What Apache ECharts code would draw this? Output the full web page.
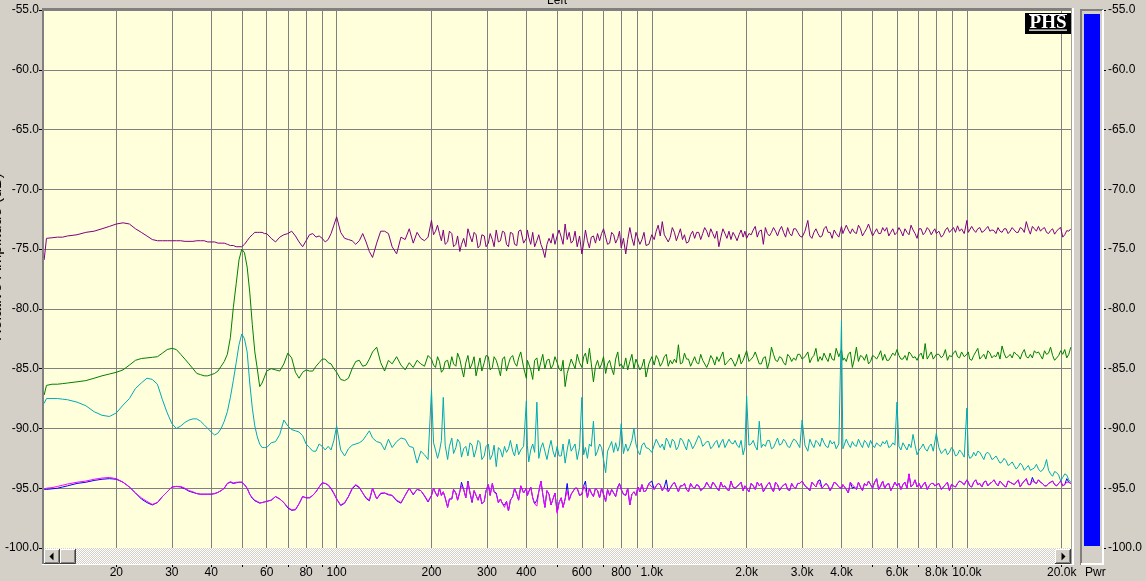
<!DOCTYPE html>
<html><head><meta charset="utf-8">
<script src="https://cdn.jsdelivr.net/npm/echarts@6/dist/echarts.min.js"></script>
<style>html,body{margin:0;padding:0;background:#d4d0c8;overflow:hidden}#c{width:1146px;height:581px}</style>
</head><body><div id="c"></div>
<script>
// ---------- DATA ----------
// main frequency grid (Hz)
const freqs = [
  11.8, 12, 12.5, 13, 13.5, 14, 15, 16, 17, 18, 19,
  20, 21, 22, 23, 24, 25, 26, 27, 28, 29,
  30, 31, 32, 33, 34, 35, 36, 37, 38, 39,
  40, 41, 42, 43, 44, 45, 46, 47, 48, 49,
  50, 51, 52, 53, 54, 55, 56, 57, 58, 59,
  60, 62, 64, 66, 68, 70, 72, 74, 76, 78,
  80, 82, 84, 86, 88, 90, 92, 94, 96, 98,
  100, 103, 106, 109, 112, 115, 118, 121, 124, 127,
  130, 134, 138, 142, 146, 150, 155, 160, 165, 170,
  175, 180, 185, 190, 195,
  200, 206, 212, 218, 225, 232, 239, 246, 253, 261,
  269, 277, 285, 294, 303, 312, 321, 331, 341, 351,
  362, 373, 384, 400, 407, 419, 432, 445, 458, 472,
  486, 501, 516, 531, 547, 563, 580, 600, 616, 634,
  653, 673, 693, 714, 735, 757, 780, 800, 827, 852,
  878, 904, 931, 959, 1000, 1018, 1048, 1080, 1112, 1145,
  1180, 1215, 1252, 1289, 1328, 1368, 1409, 1451, 1494, 1539,
  1585, 1633, 1682, 1732, 1784, 1838, 1893, 1950, 2000, 2068,
  2130, 2194, 2260, 2328, 2398, 2470, 2544, 2620, 2699, 2780,
  2863, 2949, 3000, 3128, 3222, 3319, 3419, 3521, 3627, 3736,
  3848, 4000, 4082, 4205, 4331, 4461, 4595, 4732, 4874, 5021,
  5171, 5326, 5486, 5651, 5820, 6000, 6175, 6360, 6551, 6747,
  6950, 7158, 7373, 7594, 7822, 8000, 8298, 8547, 8804, 9068,
  9340, 9620, 10000, 10206, 10512, 10828, 11153, 11487, 11832, 12187,
  12552, 12929, 13317, 13716, 14128, 14552, 14988, 15438, 15901, 16378,
  16869, 17375, 17897, 18433, 18986, 19556, 20143, 20747, 21369
];
// extra in-between frequencies for the dense noisy part (Hz)
const freqsFine = [
  203, 209, 215, 221, 228, 235, 242, 249, 257, 265,
  273, 281, 289, 298, 307, 316, 326, 336, 346, 356,
  367, 378, 392, 403, 413, 425, 438, 451, 465, 479,
  493, 508, 523, 539, 555, 571, 590, 608, 625, 643,
  663, 683, 703, 724, 746, 768, 790, 813, 839, 865,
  891, 917, 945, 979, 1033, 1064, 1096, 1128, 1162, 1197,
  1233, 1270, 1308, 1348, 1388, 1430, 1472, 1516, 1562, 1609,
  1657, 1707, 1758, 1811, 1865, 1921, 1975, 2034, 2099, 2162,
  2227, 2294, 2363, 2434, 2507, 2582, 2659, 2739, 2821, 2906,
  3063, 3175, 3270, 3369, 3470, 3574, 3681, 3792, 3923, 4041,
  4143, 4268, 4395, 4528, 4663, 4803, 4947, 5096, 5248, 5406,
  5568, 5735, 5909, 6087, 6267, 6455, 6649, 6848, 7053, 7265,
  7483, 7707, 7910, 8148, 8422, 8675, 8935, 9203, 9479, 9808,
  10103, 10358, 10669, 10989, 11319, 11658, 12008, 12368, 12739, 13122,
  13515, 13921, 14338, 14769, 15211, 15668, 16138, 16622, 17121, 17634,
  18163, 18708, 19269, 19848, 20443, 21056
];

const purpleTrace = [
  -75.9, -74.1, -74.05, -74.0, -74.0, -73.9, -73.8, -73.6, -73.5, -73.3, -73.1,
  -72.9, -72.8, -72.9, -73.3, -73.6, -73.9, -74.2, -74.3, -74.3, -74.3,
  -74.3, -74.3, -74.3, -74.35, -74.35, -74.35, -74.3, -74.3, -74.3, -74.4,
  -74.4, -74.4, -74.5, -74.5, -74.5, -74.6, -74.7, -74.7, -74.8, -74.8,
  -74.8, -74.6, -74.3, -74.0, -73.8, -73.6, -73.6, -73.6, -73.6, -73.7,
  -73.7, -74.1, -74.4, -74.0, -73.8, -73.7, -73.5, -73.9, -74.4, -74.8,
  -74.3, -73.8, -73.7, -74.0, -73.9, -74.1, -74.4, -74.2, -73.7, -73.0,
  -72.3, -73.6, -74.1, -74.2, -74.3, -74.6, -74.3, -73.7, -74.4, -75.2,
  -75.7, -74.5, -73.5, -73.5, -73.7, -74.8, -75.4, -74.0, -74.2, -73.3,
  -74.5, -73.6, -74.1, -74.3, -74.0,
  -72.6, -73.5, -73.7, -73.4, -74.4, -73.7, -74.6, -75.2, -74.1, -73.3,
  -74.4, -73.8, -74.7, -73.9, -74.5, -74.2, -73.4, -74.3, -73.6, -74.8,
  -73.7, -74.7, -73.4, -74.1, -74.0, -73.6, -74.3, -74.6, -75.7, -74.1,
  -73.7, -73.9, -74.0, -72.9, -73.6, -74.3, -74.8, -75.4, -73.4, -74.9,
  -73.9, -73.7, -73.7, -74.0, -74.5, -73.8, -74.1, -74.9, -75.4, -73.2,
  -74.7, -73.7, -74.2, -74.7, -73.8, -74.2, -73.0, -72.7, -73.7, -74.0,
  -73.6, -73.8, -74.2, -74.5, -73.8, -74.1, -73.6, -73.7, -73.5, -73.3,
  -74.1, -74.8, -73.3, -74.1, -74.2, -73.9, -73.8, -74.0, -74.1, -73.8,
  -73.1, -73.5, -74.6, -73.7, -73.6, -73.5, -73.4, -73.6, -73.2, -73.9,
  -73.3, -73.9, -74.0, -72.6, -74.1, -73.3, -74.0, -73.3, -73.6, -74.1,
  -73.7, -73.1, -73.4, -73.4, -73.3, -73.7, -73.3, -73.6, -72.9, -73.9,
  -73.3, -73.7, -73.5, -73.9, -73.3, -73.6, -73.5, -73.3, -73.8, -73.4,
  -74.1, -73.3, -73.6, -73.4, -73.5, -73.7, -74.0, -73.4, -73.6, -73.2,
  -73.05, -73.3, -72.6, -73.4, -73.4, -73.3, -73.6, -73.3, -73.5, -73.45,
  -73.2, -73.6, -73.3, -73.5, -73.4, -73.6, -73.3, -72.7, -73.75, -73.3,
  -73.1, -73.3, -73.6, -73.45, -73.75, -73.3, -74.0, -73.45, -73.3
];
const purpleFine = [
  -73.8, -73.0, -74.3, -74.6, -73.5, -74.8, -73.9, -74.6, -74.8, -73.9,
  -73.6, -74.9, -73.8, -74.8, -73.7, -74.8, -74.4, -73.5, -74.6, -73.6,
  -74.6, -73.5, -74.5, -73.4, -74.6, -74.8, -73.8, -75.0, -74.6, -74.5,
  -74.6, -73.4, -74.6, -74.2, -74.5, -73.5, -73.9, -74.5, -74.3, -74.0,
  -74.5, -74.3, -73.3, -74.6, -73.6, -74.5, -73.5, -74.1, -74.2, -74.1,
  -73.6, -74.6, -73.6, -74.6, -73.5, -73.9, -73.8, -74.4, -73.2, -74.3,
  -73.3, -73.8, -74.4, -73.5, -73.6, -74.2, -73.2, -74.0, -73.7, -73.5,
  -74.0, -73.7, -73.5, -73.6, -74.3, -73.4, -73.5, -73.7, -73.4, -74.0,
  -73.4, -73.2, -73.9, -73.2, -73.9, -73.1, -74.0, -73.7, -73.3, -73.6,
  -73.5, -73.9, -73.6, -73.7, -73.9, -73.1, -73.6, -73.4, -74.0, -73.7,
  -73.0, -73.7, -73.6, -73.0, -73.9, -73.3, -73.4, -73.6, -73.7, -73.2,
  -73.2, -73.6, -73.8, -73.2, -73.9, -73.6, -73.0, -73.7, -73.3, -73.8,
  -73.2, -73.8, -73.3, -73.5, -73.8, -73.2, -73.4, -73.6, -73.5, -73.7,
  -73.6, -73.1, -73.6, -73.2, -73.5, -73.1, -73.4, -73.7, -73.5, -73.3,
  -73.7, -73.2, -73.6, -73.2, -73.6, -73.3, -73.1, -73.5, -73.5, -73.2,
  -73.7, -73.3, -73.5, -73.2, -73.8, -73.5
];

const greenTrace = [
  -87.2, -86.4, -86.3, -86.3, -86.25, -86.2, -86.1, -86.0, -85.8, -85.6, -85.45,
  -85.3, -85.1, -84.7, -84.3, -84.15, -84.1, -84.05, -84.0, -83.7, -83.4,
  -83.3, -83.4, -83.8, -84.2, -84.6, -85.0, -85.4, -85.5, -85.6, -85.6,
  -85.5, -85.4, -85.2, -84.8, -84.4, -83.8, -82.4, -79.9, -77.9, -75.9,
  -75.0, -75.3, -76.5, -78.6, -81.3, -83.6, -85.0, -86.5, -86.2, -85.7,
  -85.2, -85.0, -85.1, -85.2, -84.6, -83.7, -84.1, -85.3, -85.8, -85.3,
  -85.1, -85.2, -85.2, -84.8, -84.5, -84.2, -84.2, -84.5, -84.6, -85.0,
  -85.3, -85.9, -86.0, -85.8, -85.0, -84.4, -84.3, -84.8, -84.7, -84.2,
  -83.6, -83.2, -84.5, -85.2, -84.3, -84.6, -84.0, -84.7, -85.1, -84.5,
  -84.9, -84.3, -84.6, -84.8, -83.9,
  -84.2, -84.9, -84.4, -85.1, -84.3, -84.0, -84.8, -84.2, -85.7, -83.9,
  -84.6, -85.6, -84.1, -84.5, -84.0, -84.9, -84.3, -85.6, -84.0, -84.6,
  -83.9, -84.8, -83.6, -85.8, -84.6, -85.9, -84.1, -84.4, -85.0, -84.2,
  -84.7, -84.5, -85.2, -86.5, -84.8, -84.2, -83.8, -84.9, -83.7, -83.3,
  -86.1, -84.3, -84.6, -85.4, -84.3, -85.5, -83.6, -84.6, -84.1, -84.4,
  -85.0, -84.2, -84.8, -85.7, -84.0, -84.7, -84.2, -84.5, -83.8, -84.3,
  -84.2, -83.0, -84.5, -84.2, -84.8, -84.0, -84.6, -84.3, -84.9, -83.9,
  -84.7, -84.4, -83.6, -84.5, -84.1, -84.8, -83.8, -84.3, -83.5, -84.2,
  -83.6, -84.6, -84.1, -85.0, -83.2, -84.3, -84.0, -84.5, -83.8, -84.4,
  -84.3, -83.8, -84.2, -83.6, -84.1, -83.3, -84.0, -83.7, -84.4, -84.2,
  -83.3, -83.4, -84.1, -83.8, -84.9, -83.2, -83.9, -84.3, -84.6, -83.9,
  -84.2, -83.5, -83.8, -84.3, -83.7, -83.4, -84.2, -83.9, -83.6, -84.1,
  -84.3, -83.7, -82.9, -83.9, -84.2, -83.8, -84.1, -83.4, -83.9, -83.7,
  -84.0, -83.6, -83.8, -84.2, -83.9, -83.3, -84.0, -84.2, -83.7, -83.9,
  -83.6, -83.1, -84.1, -83.8, -83.6, -83.9, -83.7, -84.0, -83.8, -83.5,
  -83.6, -84.2, -83.8, -83.2, -84.3, -83.9, -83.8, -84.1, -83.2
];
const greenFine = [
  -84.7, -84.0, -85.3, -84.4, -85.0, -84.6, -83.7, -84.9, -84.5, -85.0,
  -84.0, -84.8, -85.2, -83.9, -85.1, -84.0, -84.9, -84.2, -85.2, -84.1,
  -84.5, -84.1, -84.9, -84.3, -85.1, -84.3, -85.2, -83.8, -84.3, -85.0,
  -84.0, -85.0, -84.3, -85.4, -84.2, -85.0, -84.5, -84.0, -84.6, -84.6,
  -84.8, -85.0, -84.0, -84.6, -85.0, -84.2, -84.8, -85.0, -85.1, -83.8,
  -84.2, -85.1, -84.2, -84.6, -83.9, -84.8, -84.0, -84.8, -84.6, -84.5,
  -84.6, -83.7, -84.2, -84.4, -84.5, -83.8, -84.3, -84.5, -84.2, -84.0,
  -84.0, -84.7, -84.3, -84.4, -84.4, -84.6, -84.2, -84.4, -84.0, -84.1,
  -84.6, -84.0, -84.4, -83.8, -84.4, -84.1, -84.7, -84.0, -84.1, -83.8,
  -84.0, -84.5, -83.9, -84.4, -84.3, -84.1, -83.7, -84.3, -84.0, -84.3,
  -84.4, -83.6, -84.2, -84.4, -84.0, -83.8, -84.4, -84.0, -83.9, -84.3,
  -84.3, -84.0, -83.9, -83.9, -84.2, -84.3, -83.8, -84.0, -83.9, -84.2,
  -84.2, -83.6, -84.3, -83.8, -83.9, -84.3, -84.0, -83.5, -84.1, -84.0,
  -83.6, -84.3, -83.6, -84.2, -83.8, -83.5, -84.1, -84.0, -84.2, -83.7,
  -84.0, -84.1, -83.8, -84.2, -83.4, -84.1, -84.1, -83.7, -83.9, -83.5,
  -83.7, -83.9, -84.1, -83.5, -83.4, -83.8
];

const cyanTrace = [
  -87.9, -87.5, -87.5, -87.5, -87.55, -87.6, -87.8, -88.1, -88.6, -88.9, -89.0,
  -88.7, -88.05, -87.5, -86.65, -86.2, -85.8, -85.9, -86.3, -87.6, -88.7,
  -89.6, -90.0, -89.8, -89.5, -89.3, -89.2, -89.2, -89.4, -89.7, -90.0,
  -90.3, -90.55, -90.4, -90.0, -89.4, -88.6, -87.4, -86.0, -84.5, -83.0,
  -82.1, -82.5, -83.6, -86.2, -88.3, -89.8, -90.7, -91.3, -91.6, -91.6,
  -91.6, -91.2, -91.1, -90.5, -89.3, -89.8, -90.1, -90.2, -90.3, -90.6,
  -91.3, -91.6, -91.9, -91.9, -91.3, -91.5, -91.8, -91.5, -91.8, -91.0,
  -89.8, -91.8, -92.3, -91.7, -91.4, -91.3, -91.2, -91.0, -90.6, -90.2,
  -90.8, -91.1, -91.2, -91.8, -90.9, -91.6, -91.1, -90.8, -90.9, -91.5,
  -91.6, -92.9, -91.9, -92.2, -92.6,
  -86.8, -91.8, -91.9, -87.4, -92.6, -90.8, -91.6, -91.2, -91.7, -92.3,
  -91.4, -91.8, -91.2, -92.3, -91.3, -92.2, -93.2, -91.8, -91.5, -91.7,
  -91.9, -91.3, -91.8, -87.7, -92.8, -91.3, -87.8, -91.6, -91.9, -91.7,
  -91.9, -91.5, -92.3, -92.9, -90.9, -91.8, -92.6, -87.4, -91.6, -91.3,
  -89.4, -91.9, -91.6, -93.7, -91.5, -92.0, -91.9, -89.6, -91.3, -91.5,
  -90.0, -91.9, -91.4, -91.6, -92.0, -91.4, -91.0, -91.3, -90.8, -91.6,
  -91.1, -91.5, -91.0, -91.8, -91.2, -91.4, -90.6, -91.5, -91.1, -91.7,
  -91.2, -91.6, -90.9, -91.5, -91.2, -91.0, -91.6, -92.2, -87.3, -91.3,
  -91.5, -89.4, -91.3, -91.0, -91.7, -91.2, -91.4, -90.9, -91.5, -91.2,
  -91.0, -91.6, -89.3, -91.9, -91.3, -91.0, -91.5, -91.2, -91.6, -91.3,
  -91.7, -81.0, -91.6, -91.3, -91.1, -91.5, -91.3, -91.0, -91.6, -91.4,
  -91.2, -91.5, -91.3, -91.6, -91.2, -87.8, -91.8, -91.5, -91.3, -90.5,
  -92.2, -91.6, -91.7, -91.5, -91.9, -90.4, -92.1, -91.7, -92.0, -91.8,
  -92.2, -92.0, -88.3, -92.5, -92.0, -91.9, -92.3, -92.1, -92.2, -92.5,
  -92.6, -92.8, -92.7, -93.0, -93.1, -93.2, -93.1, -93.3, -93.5, -93.3,
  -93.4, -93.5, -92.6, -93.8, -93.6, -93.9, -94.1, -93.9, -94.5
];
const cyanFine = [
  -91.2, -92.5, -91.0, -91.4, -91.5, -92.1, -90.9, -92.4, -91.5, -91.2,
  -92.4, -91.0, -92.6, -91.5, -92.6, -91.4, -91.6, -92.4, -92.0, -91.0,
  -92.3, -92.2, -91.5, -91.4, -91.8, -92.0, -92.5, -91.2, -92.6, -91.0,
  -92.4, -92.3, -91.3, -91.8, -91.9, -91.3, -91.6, -92.2, -92.5, -91.5,
  -92.3, -91.3, -92.6, -91.9, -91.1, -91.2, -91.4, -92.1, -91.9, -91.0,
  -91.3, -92.2, -91.2, -91.7, -90.9, -91.6, -91.8, -91.1, -90.9, -91.8,
  -90.8, -91.4, -90.9, -91.7, -91.4, -90.9, -91.6, -91.1, -91.5, -91.0,
  -91.2, -91.6, -90.9, -91.3, -91.4, -91.0, -91.6, -91.4, -91.0, -91.8,
  -91.6, -91.5, -91.0, -91.6, -90.8, -91.3, -91.1, -91.6, -90.9, -91.3,
  -91.4, -90.9, -91.6, -91.2, -90.8, -91.5, -91.0, -91.1, -91.3, -91.7,
  -90.9, -91.6, -91.4, -90.9, -91.6, -91.2, -91.0, -91.6, -91.4, -91.1,
  -91.0, -91.5, -91.4, -91.5, -91.2, -91.8, -91.6, -91.4, -91.8, -91.3,
  -91.9, -91.3, -91.8, -91.6, -91.9, -92.2, -91.6, -92.3, -91.8, -92.4,
  -92.1, -92.4, -92.3, -92.0, -92.6, -92.0, -92.6, -92.3, -92.9, -92.5,
  -93.1, -92.8, -93.4, -92.9, -93.5, -93.1, -93.4, -93.0, -93.6, -93.2,
  -93.5, -94.0, -93.7, -94.4, -93.8, -94.3
];

const blueTrace = [
  -95.1, -95.1, -95.05, -95.0, -94.9, -94.8, -94.6, -94.5, -94.35, -94.25, -94.2,
  -94.25, -94.5, -94.9, -95.4, -95.9, -96.2, -96.4, -96.2, -95.7, -95.3,
  -94.9, -94.85, -94.9, -95.05, -95.25, -95.35, -95.45, -95.5, -95.5, -95.5,
  -95.5, -95.45, -95.35, -95.2, -95.0, -94.6, -94.5, -94.6, -94.55, -94.5,
  -94.5, -94.7, -95.0, -95.5, -95.85, -96.05, -96.15, -96.25, -96.2, -96.15,
  -96.1, -96.0, -95.7, -95.9, -96.2, -96.65, -96.85, -96.8, -96.3, -95.7,
  -95.8, -95.8, -95.6, -95.3, -94.9, -94.55, -94.6, -94.75, -95.05, -95.45,
  -95.9, -96.45, -96.25, -95.7, -95.05, -94.75, -94.95, -95.4, -95.85, -96.05,
  -95.0, -95.9, -95.45, -95.4, -95.55, -95.6, -96.05, -96.25, -95.6, -95.0,
  -95.55, -95.1, -95.2, -95.65, -96.15,
  -95.6, -95.4, -95.0, -95.3, -96.6, -95.9, -95.4, -95.3, -95.1, -94.4,
  -96.2, -95.6, -95.5, -96.1, -94.7, -94.6, -95.4, -95.9, -96.4, -96.9,
  -95.7, -95.5, -94.8, -95.0, -95.3, -95.8, -96.0, -94.4, -96.6, -95.5,
  -96.3, -97.0, -95.8, -95.9, -96.0, -95.5, -95.0, -95.5, -94.4, -95.0,
  -95.7, -95.2, -95.0, -96.1, -95.6, -95.4, -94.9, -95.1, -95.6, -96.4,
  -95.3, -94.9, -94.7, -95.2, -94.4, -95.1, -94.6, -95.2, -94.3, -95.0,
  -94.5, -95.3, -94.8, -95.1, -94.6, -95.0, -94.8, -95.3, -94.5, -95.0,
  -94.7, -95.2, -94.9, -95.1, -94.4, -95.0, -94.7, -95.2, -95.0, -94.6,
  -95.1, -94.8, -95.3, -94.7, -95.0, -94.5, -95.2, -94.9, -95.1, -94.6,
  -95.0, -94.6, -94.4, -95.0, -94.5, -94.9, -94.3, -95.1, -94.8, -94.9,
  -94.6, -95.0, -94.8, -95.4, -95.0, -95.1, -94.9, -94.6, -94.4, -95.0,
  -94.2, -94.8, -95.0, -94.6, -94.9, -94.8, -95.1, -94.5, -93.8, -94.7,
  -94.9, -95.0, -94.5, -94.8, -94.6, -94.9, -95.1, -94.7, -95.2, -94.8,
  -94.6, -94.5, -94.3, -94.8, -94.5, -94.7, -94.9, -94.4, -94.6, -94.3,
  -94.8, -94.6, -94.9, -94.5, -94.7, -94.3, -94.6, -94.2, -94.7, -94.5,
  -94.3, -94.6, -94.8, -94.5, -94.7, -94.6, -94.8, -94.2, -94.6
];
const blueFine = [
  -95.0, -95.7, -95.6, -95.8, -95.9, -95.1, -96.0, -94.5, -95.8, -95.4,
  -95.2, -96.0, -96.3, -95.2, -95.6, -95.3, -96.2, -96.3, -96.1, -96.0,
  -95.0, -96.0, -95.4, -95.6, -94.9, -96.3, -95.3, -95.5, -95.2, -96.4,
  -95.4, -96.2, -96.6, -94.6, -95.5, -95.0, -95.6, -94.8, -95.8, -95.4,
  -95.0, -95.8, -95.5, -95.1, -95.1, -95.7, -94.6, -95.5, -95.0, -95.5,
  -95.6, -95.3, -95.3, -94.6, -94.8, -94.7, -94.9, -95.3, -94.7, -94.9,
  -94.8, -94.6, -95.3, -94.9, -94.7, -95.2, -94.9, -94.8, -94.5, -95.0,
  -94.5, -94.8, -95.2, -94.9, -95.1, -94.5, -94.8, -95.3, -94.8, -94.5,
  -94.6, -95.0, -94.5, -95.3, -94.7, -94.9, -94.6, -95.2, -94.9, -94.6,
  -94.8, -95.2, -94.7, -94.4, -95.0, -94.6, -95.2, -94.5, -94.9, -94.7,
  -95.1, -94.5, -94.9, -94.5, -95.2, -94.8, -94.7, -94.5, -95.1, -94.4,
  -94.7, -95.2, -94.5, -94.6, -94.7, -95.0, -94.9, -94.3, -94.6, -94.7,
  -95.1, -94.6, -94.8, -94.6, -94.9, -94.5, -94.7, -94.9, -94.4, -94.7,
  -94.5, -94.9, -94.3, -94.6, -94.5, -94.8, -94.5, -94.6, -94.4, -94.8,
  -94.4, -94.6, -94.5, -94.9, -94.4, -94.7, -94.1, -94.6, -94.5, -94.8,
  -94.6, -94.4, -94.8, -94.4, -94.7, -94.5
];

const magentaTrace = [
  -95.1, -95.0, -94.95, -94.85, -94.75, -94.65, -94.5, -94.4, -94.25, -94.15, -94.1,
  -94.2, -94.5, -94.9, -95.4, -95.8, -96.1, -96.35, -96.2, -95.7, -95.3,
  -94.9, -94.85, -94.85, -95.0, -95.2, -95.3, -95.45, -95.5, -95.5, -95.5,
  -95.5, -95.45, -95.35, -95.2, -95.0, -94.6, -94.45, -94.55, -94.5, -94.5,
  -94.5, -94.7, -95.0, -95.5, -95.8, -96.0, -96.1, -96.2, -96.2, -96.15,
  -96.1, -96.0, -95.7, -95.9, -96.2, -96.6, -96.8, -96.8, -96.3, -95.7,
  -95.8, -95.8, -95.6, -95.3, -94.9, -94.55, -94.6, -94.7, -95.0, -95.4,
  -95.9, -96.4, -96.2, -95.7, -95.0, -94.7, -94.9, -95.4, -95.8, -96.0,
  -95.0, -95.9, -95.4, -95.4, -95.5, -95.6, -96.0, -96.2, -95.6, -95.0,
  -95.5, -95.1, -95.2, -95.6, -96.1,
  -95.6, -95.4, -95.0, -95.3, -96.6, -95.9, -95.4, -95.3, -95.1, -94.5,
  -96.1, -95.6, -95.5, -96.1, -94.7, -94.6, -95.5, -95.9, -96.6, -96.9,
  -95.7, -95.5, -94.8, -95.0, -95.3, -95.8, -96.5, -94.4, -96.6, -95.5,
  -96.3, -97.1, -95.8, -95.9, -96.0, -95.5, -95.0, -95.5, -95.1, -95.0,
  -95.7, -95.2, -95.0, -96.1, -95.6, -95.4, -95.0, -95.1, -95.6, -96.4,
  -95.3, -94.9, -94.7, -95.2, -94.9, -95.1, -94.6, -95.2, -94.8, -95.0,
  -94.5, -95.3, -94.8, -95.1, -94.6, -95.0, -94.8, -95.3, -94.5, -95.0,
  -94.7, -95.2, -94.9, -95.1, -94.4, -95.0, -94.7, -95.2, -95.0, -94.6,
  -95.1, -94.8, -95.3, -94.7, -95.0, -94.5, -95.2, -94.9, -95.1, -94.6,
  -95.0, -94.6, -94.4, -95.0, -94.5, -94.9, -94.7, -95.1, -94.8, -94.9,
  -94.6, -95.0, -94.8, -95.4, -94.7, -95.1, -94.9, -94.6, -94.4, -95.0,
  -94.2, -94.8, -95.0, -94.6, -94.9, -94.8, -95.1, -94.5, -93.8, -94.7,
  -94.9, -95.0, -94.5, -94.8, -94.6, -94.9, -95.1, -94.7, -95.2, -94.8,
  -94.6, -94.5, -94.3, -94.8, -94.5, -94.7, -94.9, -94.4, -94.6, -94.3,
  -94.8, -94.6, -94.9, -94.5, -94.7, -94.3, -94.6, -94.2, -94.7, -94.5,
  -94.3, -94.6, -94.8, -94.5, -94.7, -94.6, -94.8, -94.5, -94.6
];
const magentaFine = [
  -95.0, -95.7, -95.6, -95.8, -95.9, -95.1, -96.0, -94.8, -95.8, -95.4,
  -95.2, -96.0, -96.3, -95.2, -95.6, -95.3, -96.2, -96.3, -96.1, -96.0,
  -95.0, -96.0, -95.4, -95.6, -94.9, -96.3, -95.3, -95.5, -95.2, -96.4,
  -95.4, -96.2, -96.6, -95.2, -95.5, -95.0, -95.6, -94.8, -95.8, -95.4,
  -95.0, -95.8, -95.5, -95.1, -95.1, -95.7, -94.6, -95.5, -95.0, -95.5,
  -95.6, -95.3, -95.3, -94.6, -94.8, -94.7, -94.9, -95.3, -94.7, -94.9,
  -94.8, -94.6, -95.3, -94.9, -94.7, -95.2, -94.9, -94.8, -94.5, -95.0,
  -94.5, -94.8, -95.2, -94.9, -95.1, -94.5, -94.8, -95.3, -94.8, -94.5,
  -94.6, -95.0, -94.5, -95.3, -94.7, -94.9, -94.6, -95.2, -94.9, -94.6,
  -94.8, -95.2, -94.7, -94.4, -95.0, -94.6, -95.2, -94.5, -94.9, -94.7,
  -95.1, -94.5, -94.9, -94.5, -95.2, -94.8, -94.7, -94.5, -95.1, -94.4,
  -94.7, -95.2, -94.5, -94.6, -94.7, -95.0, -94.9, -94.3, -94.6, -94.7,
  -95.1, -94.6, -94.8, -94.6, -94.9, -94.5, -94.7, -94.9, -94.4, -94.7,
  -94.5, -94.9, -94.3, -94.6, -94.5, -94.8, -94.5, -94.6, -94.4, -94.8,
  -94.4, -94.6, -94.5, -94.9, -94.4, -94.7, -94.4, -94.6, -94.5, -94.8,
  -94.6, -94.4, -94.8, -94.4, -94.7, -94.5
];

const gridFreqs = [20, 30, 40, 50, 60, 70, 80, 90, 100, 200, 300, 400, 500, 600, 700, 800, 900,
  1000, 2000, 3000, 4000, 5000, 6000, 7000, 8000, 9000, 10000, 20000];
const xLabelFreqs = [20, 30, 40, 60, 80, 100, 200, 300, 400, 600, 800, 1000, 2000, 3000, 4000, 6000, 8000, 10000, 20000];
const xLabelTexts = ['20', '30', '40', '60', '80', '100', '200', '300', '400', '600', '800',
  '1.0k', '2.0k', '3.0k', '4.0k', '6.0k', '8.0k', '10.0k', '20.0k'];
const yMin = -100, yMax = -55, yStep = 5;
const titleText = 'Left';
const yAxisTitle = 'Relative Amplitude (dB)';
const meterLabel = 'Pwr';

// ---------- CHART ----------
const chart = echarts.init(document.getElementById('c'), null, {renderer: 'canvas', width: 1146, height: 581});
const merge = (main, fine) => freqs.map((f, i) => [f, main[i]])
  .concat(freqsFine.map((f, i) => [f, fine[i]]))
  .sort((a, b) => a[0] - b[0]);
const FONT = 'Liberation Sans, Arial, sans-serif';

const pc = document.createElement('canvas'); pc.width = 2; pc.height = 2;
const pg = pc.getContext('2d');
pg.fillStyle = '#d4d0c8'; pg.fillRect(0, 0, 2, 2);
pg.fillStyle = '#ffffff'; pg.fillRect(0, 0, 1, 1); pg.fillRect(1, 1, 1, 1);

function button(x, y, w, h, dir) {
  const els = [
    {type: 'rect', shape: {x: x, y: y, width: w, height: h}, style: {fill: '#d4d0c8'}},
    {type: 'polyline', shape: {points: [[x + 0.5, y + h - 1], [x + 0.5, y + 0.5], [x + w - 1, y + 0.5]]}, style: {stroke: '#ffffff', lineWidth: 1, fill: null}},
    {type: 'polyline', shape: {points: [[x + 1, y + h - 1.5], [x + w - 1.5, y + h - 1.5], [x + w - 1.5, y + 1]]}, style: {stroke: '#808080', lineWidth: 1, fill: null}},
    {type: 'polyline', shape: {points: [[x, y + h - 0.5], [x + w - 0.5, y + h - 0.5], [x + w - 0.5, y]]}, style: {stroke: '#404040', lineWidth: 1, fill: null}}
  ];
  const cx = x + w / 2, cy = y + h / 2;
  if (dir === 'l') els.push({type: 'polygon', shape: {points: [[cx - 2.5, cy], [cx + 1.5, cy - 4], [cx + 1.5, cy + 4]]}, style: {fill: '#000'}});
  if (dir === 'r') els.push({type: 'polygon', shape: {points: [[cx + 2.5, cy], [cx - 1.5, cy - 4], [cx - 1.5, cy + 4]]}, style: {fill: '#000'}});
  return els;
}

const lensMain = [purpleTrace, greenTrace, cyanTrace, blueTrace, magentaTrace].map(a => a.length);
const lensFine = [purpleFine, greenFine, cyanFine, blueFine, magentaFine].map(a => a.length);
const lenOk = lensMain.every(l => l === freqs.length) && lensFine.every(l => l === freqsFine.length);

const graphics = [
  {type: 'rect', shape: {x: 43, y: 8, width: 1029, height: 3}, style: {fill: '#808080'}},
  {type: 'rect', shape: {x: 42, y: 8, width: 2, height: 557}, style: {fill: '#808080'}},
  {type: 'rect', shape: {x: 1071, y: 8, width: 1, height: 557}, style: {fill: '#a0a0a0'}},
  {type: 'rect', shape: {x: 1072, y: 8, width: 2, height: 557}, style: {fill: '#ffffff'}},
  {type: 'rect', shape: {x: 44, y: 548, width: 1027, height: 16}, style: {fill: {image: pc, repeat: 'repeat'}}},
  {type: 'rect', shape: {x: 42, y: 564, width: 1032, height: 1}, style: {fill: '#ffffff'}},
  ...button(44, 549, 16, 15, 'l'),
  ...button(60, 549, 16, 15, ''),
  ...button(1055, 549, 16, 15, 'r'),
  {type: 'rect', shape: {x: 1080, y: 9, width: 24, height: 556}, style: {fill: '#d4d0c8'}},
  {type: 'rect', shape: {x: 1080, y: 9, width: 2, height: 556}, style: {fill: '#808080'}},
  {type: 'rect', shape: {x: 1080, y: 9, width: 23, height: 2}, style: {fill: '#808080'}},
  {type: 'rect', shape: {x: 1102, y: 10, width: 2, height: 555}, style: {fill: '#ffffff'}},
  {type: 'rect', shape: {x: 1081, y: 563, width: 23, height: 2}, style: {fill: '#ffffff'}},
  {type: 'rect', shape: {x: 1084, y: 14, width: 16, height: 532}, style: {fill: '#0000ff'}},
  {type: 'text', x: 1085, y: 567, style: {text: meterLabel, fill: '#000', font: '12px ' + FONT, textVerticalAlign: 'top', verticalAlign: 'top'}},
  {type: 'rect', shape: {x: 1025, y: 13, width: 46, height: 21}, style: {fill: '#000'}},
  {type: 'rect', shape: {x: 1029, y: 14, width: 38, height: 1}, style: {fill: '#fff'}},
  {type: 'rect', shape: {x: 1029, y: 29.5, width: 38, height: 1.2}, style: {fill: '#fff'}},
  {type: 'text', x: 1048, y: 23.5, style: {text: 'PHS', fill: '#fff', font: 'bold 19px "Liberation Serif", "Times New Roman", serif', align: 'center', textAlign: 'center', verticalAlign: 'middle', textVerticalAlign: 'middle'}},
  {type: 'text', x: 557, y: 7, style: {text: titleText, fill: '#000', font: '12px ' + FONT, align: 'center', textAlign: 'center', verticalAlign: 'bottom', textVerticalAlign: 'bottom'}},
  {type: 'text', x: 5, y: 257, rotation: Math.PI / 2, style: {text: yAxisTitle, fill: '#000', font: '16px ' + FONT, align: 'center', textAlign: 'center', verticalAlign: 'bottom', textVerticalAlign: 'bottom'}}
];
if (!lenOk) graphics.push({type: 'text', x: 300, y: 300, style: {text: 'LEN MISMATCH ' + lensMain.join(',') + ' / ' + lensFine.join(','), fill: 'red', font: 'bold 30px sans-serif'}});
graphics.forEach(g => { g.z = 100; });

const lineSeries = (name, main, fine, color) => ({
  name: name, type: 'line', data: merge(main, fine), showSymbol: false, symbol: 'none',
  lineStyle: {color: color, width: 1}, itemStyle: {color: color}, clip: true, animation: false
});

chart.setOption({
  animation: false,
  backgroundColor: '#d4d0c8',
  grid: {left: 43, top: 10, right: 75, bottom: 33, show: true, backgroundColor: '#ffffdc', borderWidth: 0, containLabel: false, outerBoundsMode: 'none'},
  xAxis: {
    type: 'log', logBase: 10, min: 11.7, max: 21400, offset: 16,
    axisLine: {show: false},
    axisTick: {show: true, length: 3, customValues: gridFreqs, lineStyle: {color: '#000'}},
    axisLabel: {
      customValues: xLabelFreqs, margin: 3, color: '#000', fontSize: 12, fontFamily: FONT, hideOverlap: false,
      formatter: v => { const i = xLabelFreqs.findIndex(f => Math.abs(f - v) / f < 1e-4); return i >= 0 ? xLabelTexts[i] : ''; }
    },
    splitLine: {show: true, lineStyle: {color: '#808080', width: 1}},
    minorTick: {show: false}, minorSplitLine: {show: false}
  },
  yAxis: [{
    type: 'value', min: yMin, max: yMax, interval: yStep, position: 'left',
    axisLine: {show: false},
    axisTick: {show: true, length: 4, lineStyle: {color: '#000'}},
    axisLabel: {formatter: v => v.toFixed(1), margin: 4, color: '#000', fontSize: 12, fontFamily: FONT},
    splitLine: {show: true, lineStyle: {color: '#808080', width: 1}}
  }, {
    type: 'value', min: yMin, max: yMax, interval: yStep, position: 'right', offset: 32,
    axisLine: {show: false},
    axisTick: {show: true, length: 3, lineStyle: {color: '#000'}},
    axisLabel: {formatter: v => v.toFixed(1), margin: 5, color: '#000', fontSize: 12, fontFamily: FONT},
    splitLine: {show: false}
  }],
  series: [
    lineSeries('s1', purpleTrace, purpleFine, '#800080'),
    lineSeries('s2', greenTrace, greenFine, '#008000'),
    lineSeries('s3', cyanTrace, cyanFine, '#00aab4'),
    lineSeries('s4', blueTrace, blueFine, '#0000ff'),
    lineSeries('s5', magentaTrace, magentaFine, '#ff00ff')
  ],
  graphic: {elements: graphics}
});
</script>
</body></html>
